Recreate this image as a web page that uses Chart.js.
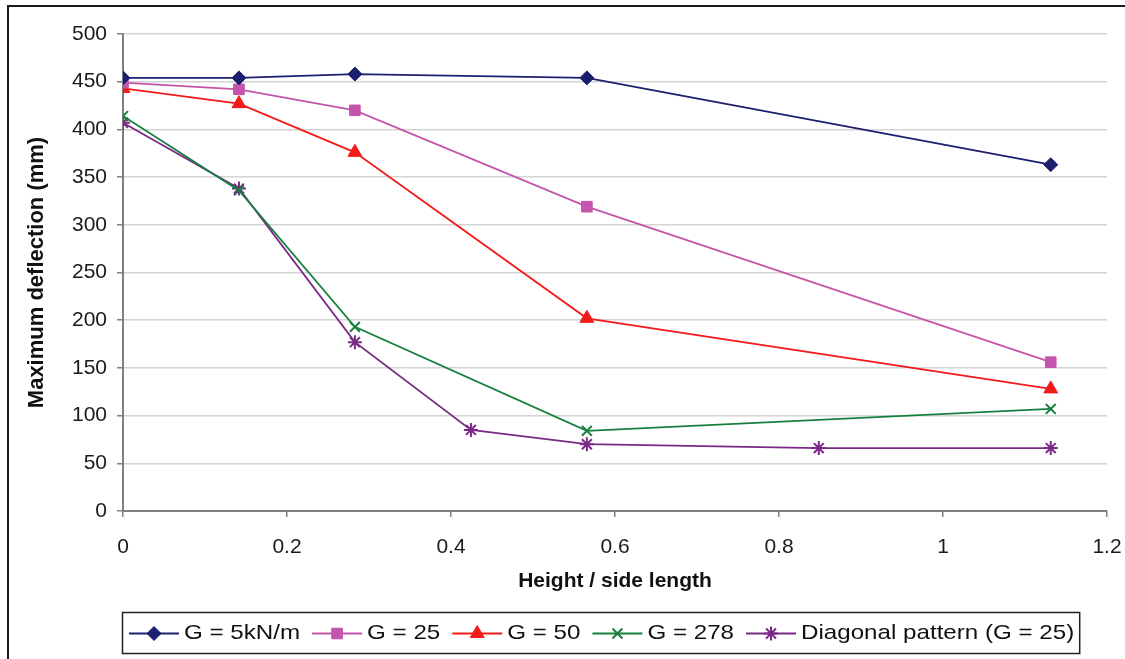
<!DOCTYPE html>
<html>
<head>
<meta charset="utf-8">
<script src="https://cdn.jsdelivr.net/npm/chart.js@4.4.1/dist/chart.umd.min.js"></script>
<style>
  html, body { margin: 0; padding: 0; background: #fff; overflow: hidden; }
  #wrap { position: relative; width: 1125px; height: 659px; }
  #frame { position: absolute; left: 7px; top: 5px; width: 2000px; height: 2000px; border: 2px solid #1a1a1a; pointer-events: none; }
  canvas { position: absolute; left: 0; top: 0; }
</style>
</head>
<body>
<div id="wrap">
  <canvas id="chart" width="1125" height="659"></canvas>
  <div id="frame"></div>
</div>
<script>
// Height / side length
const xFive = [0, 0.1414, 0.2828, 0.5657, 1.1314];
const xDiagonal = [0, 0.1414, 0.2828, 0.4243, 0.5657, 0.8485, 1.1314];

// Maximum deflection (mm)
const g5 = [454, 454, 458, 454, 363];
const g25 = [449, 442, 420, 319, 156];
const g50 = [443, 427, 376, 202, 128];
const g278 = [414, 336, 193, 84, 107];
const diagonal = [407, 338, 177, 85, 70, 66, 66];

const seriesNames = ["G = 5kN/m", "G = 25", "G = 50", "G = 278", "Diagonal pattern (G = 25)"];
const yTicks = [0, 50, 100, 150, 200, 250, 300, 350, 400, 450, 500];
const xTicks = [0, 0.2, 0.4, 0.6, 0.8, 1, 1.2];

function pts(xs, ys) {
    return ys.map((v, i) => ({ x: xs[i], y: v }));
}

function ds(label, data, color, style, radius) {
    return {
        label: label,
        data: data,
        borderColor: color,
        backgroundColor: color,
        pointBackgroundColor: color,
        pointBorderColor: color,
        pointStyle: style,
        pointRadius: radius,
        pointBorderWidth: style === "crossRot" || style === "star" ? 2 : 1,
        borderWidth: 1.8,
        tension: 0
    };
}

const datasets = [
    ds(seriesNames[0], pts(xFive, g5), "#1c1f6e", "rectRot", 7),
    ds(seriesNames[1], pts(xFive, g25), "#c455ac", "rect", 7.5),
    ds(seriesNames[2], pts(xFive, g50), "#f41a1a", "triangle", 8),
    ds(seriesNames[3], pts(xFive, g278), "#17803f", "crossRot", 7),
    ds(seriesNames[4], pts(xDiagonal, diagonal), "#7a2a86", "star", 7)
];

// legend with line + marker, drawn in a box under the axis title
const boxLegend = {
    id: "boxLegend",
    afterDraw(chart) {
        const ctx = chart.ctx;
        const left = chart.chartArea.left - 1;
        const top = 612, bottom = 653;
        const cy = (top + bottom) / 2 + 1;
        const stretch = 1.15;
        ctx.save();
        ctx.font = "21px 'Liberation Sans', Arial, sans-serif";
        ctx.textBaseline = "middle";
        let x = left + 7;
        chart.data.datasets.forEach((d, i) => {
            const lineW = 50;
            ctx.strokeStyle = d.borderColor;
            ctx.fillStyle = d.borderColor;
            ctx.lineWidth = 1.8;
            ctx.beginPath();
            ctx.moveTo(x, cy);
            ctx.lineTo(x + lineW, cy);
            ctx.stroke();
            ctx.lineWidth = d.pointBorderWidth;
            Chart.helpers.drawPoint(ctx, { pointStyle: d.pointStyle, radius: d.pointRadius, rotation: 0, borderWidth: d.pointBorderWidth }, x + lineW / 2, cy);
            x += lineW + 5;
            ctx.fillStyle = "#111";
            const w = ctx.measureText(d.label).width * stretch;
            ctx.save();
            ctx.translate(x, cy);
            ctx.scale(stretch, 1);
            ctx.fillText(d.label, 0, 0);
            ctx.restore();
            x += w + 12;
        });
        const right = x - 7;
        ctx.strokeStyle = "#222";
        ctx.lineWidth = 1.5;
        ctx.strokeRect(left + 0.5, top + 0.5, right - left, bottom - top);
        ctx.restore();
    }
};

new Chart(document.getElementById("chart"), {
    type: "line",
    data: { datasets: datasets },
    plugins: [boxLegend],
    options: {
        responsive: false,
        animation: false,
        layout: { padding: { left: 10, right: 18, top: 34, bottom: 59 } },
        plugins: {
            legend: { display: false },
            tooltip: { enabled: false }
        },
        scales: {
            x: {
                type: "linear",
                min: 0,
                max: 1.2,
                afterBuildTicks(scale) {
                    scale.ticks = xTicks.map(v => ({ value: v }));
                },
                afterFit(scale) {
                    scale.height = 89;
                    scale.paddingLeft = 0;
                    scale.paddingRight = 0;
                },
                ticks: {
                    color: "#1a1a1a",
                    padding: 18,
                    maxRotation: 0,
                    font: { family: "'Liberation Sans', Arial, sans-serif", size: 21 },
                    callback: v => String(v)
                },
                grid: {
                    drawOnChartArea: false,
                    drawTicks: true,
                    tickLength: 6,
                    tickColor: "#808080",
                    lineWidth: 1.5
                },
                border: { display: true, color: "#808080", width: 2 },
                title: {
                    display: true,
                    text: "Height / side length",
                    color: "#111",
                    padding: { top: 4, bottom: 6 },
                    font: { family: "'Liberation Sans', Arial, sans-serif", size: 21, weight: "bold" }
                }
            },
            y: {
                min: 0,
                max: 500,
                afterBuildTicks(scale) {
                    scale.ticks = yTicks.map(v => ({ value: v }));
                },
                afterFit(scale) {
                    scale.width = 113;
                    scale.paddingTop = 0;
                    scale.paddingBottom = 0;
                },
                ticks: {
                    color: "#1a1a1a",
                    padding: 10,
                    font: { family: "'Liberation Sans', Arial, sans-serif", size: 21 }
                },
                grid: {
                    color: "#d4d4d4",
                    lineWidth: 1.5,
                    tickLength: 6,
                    tickColor: "#808080"
                },
                border: { display: true, color: "#808080", width: 2 },
                title: {
                    display: true,
                    text: "Maximum deflection (mm)",
                    color: "#111",
                    padding: { top: 14, bottom: 4 },
                    font: { family: "'Liberation Sans', Arial, sans-serif", size: 22, weight: "bold" }
                }
            }
        }
    }
});
</script>
</body>
</html>
